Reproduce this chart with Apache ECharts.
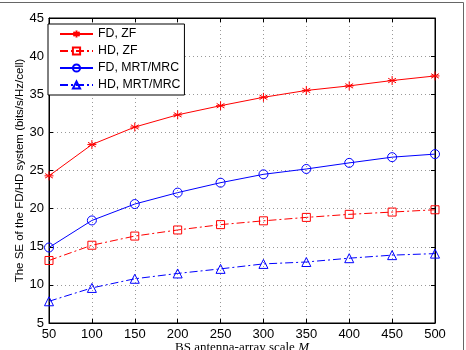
<!DOCTYPE html>
<html>
<head>
<meta charset="utf-8">
<script src="https://cdn.jsdelivr.net/npm/echarts@6/dist/echarts.min.js"></script>
<style>
  html, body { margin: 0; padding: 0; background: #fff; }
  #chart { width: 466px; height: 350px; }
</style>
</head>
<body>
<div id="chart"></div>
<script>
// antenna counts on the x axis
const scales = [50, 100, 150, 200, 250, 300, 350, 400, 450, 500];
// SE values
const fdZf = [24.3, 28.4, 30.7, 32.3, 33.5, 34.6, 35.5, 36.1, 36.8, 37.4];
const hdZf = [13.2, 15.2, 16.4, 17.2, 17.9, 18.4, 18.85, 19.25, 19.55, 19.85];
const fdMrt = [14.9, 18.45, 20.6, 22.1, 23.4, 24.5, 25.2, 26.0, 26.75, 27.15];
const hdMrt = [7.85, 9.6, 10.8, 11.5, 12.1, 12.75, 13.0, 13.5, 13.9, 14.1];
const seriesNames = ["FD, ZF", "HD, ZF", "FD, MRT/MRC", "HD, MRT/MRC"];

const RED = "#ff0000";
const BLUE = "#0000ff";
const dashDot = [8, 3, 2, 3];
const asterisk = "path://M0,-10L0,10M-8.66,-5L8.66,5M-8.66,5L8.66,-5M-10,0L10,0";

const pairs = (ys) => scales.map((x, i) => [x, ys[i]]);

const makeSeries = (name, ys, color, lineType, symbol, size) => ({
    name,
    type: "line",
    data: pairs(ys),
    symbol,
    symbolSize: size,
    showAllSymbol: true,
    animation: false,
    lineStyle: { color, width: 1, type: lineType },
    itemStyle: { color: "rgba(0,0,0,0)", borderColor: color, borderWidth: 1 },
    emphasis: { disabled: true },
});

const tickStyle = { show: true, inside: true, length: 4, lineStyle: { color: "#000" } };
const gridLine = { show: true, lineStyle: { color: "#999", type: [1, 3], width: 1 } };
const sans = "'Liberation Sans', Arial, sans-serif";
const serif = "'Liberation Serif', 'Times New Roman', serif";

const chart = echarts.init(document.getElementById("chart"), null, { renderer: "canvas" });
chart.setOption({
    backgroundColor: "#fff",
    animation: false,
    grid: {
        left: 49, right: 31, top: 18, bottom: 27,
        outerBoundsMode: "none",
        containLabel: false,
        show: true, borderColor: "#000", borderWidth: 1,
    },
    legend: {
        data: seriesNames,
        orient: "vertical",
        left: 48,
        top: 24,
        itemWidth: 33,
        itemHeight: 9,
        itemGap: 3,
        padding: [3, 4, 3, 11],
        backgroundColor: "#fff",
        borderColor: "#000",
        borderWidth: 1,
        textStyle: { fontFamily: sans, fontSize: 12.3, lineHeight: 14, color: "#000" },
    },
    xAxis: [
        {
            type: "value",
            min: 50,
            max: 500,
            interval: 50,
            position: "bottom",
            axisLine: { show: true, lineStyle: { color: "#000" } },
            axisTick: tickStyle,
            splitLine: gridLine,
            axisLabel: { fontFamily: sans, fontSize: 13, color: "#000", margin: 5 },
            name: "{n|BS antenna-array scale }{m|M}",
            nameLocation: "middle",
            nameGap: 18,
            nameMoveOverlap: false,
            nameTextStyle: {
                rich: {
                    n: { fontFamily: serif, fontSize: 13, color: "#000" },
                    m: { fontFamily: serif, fontSize: 13, fontStyle: "italic", color: "#000" },
                },
            },
        },
        {
            type: "value",
            min: 50,
            max: 500,
            interval: 50,
            position: "top",
            axisLine: { show: true, lineStyle: { color: "#000" } },
            axisTick: tickStyle,
            axisLabel: { show: false },
            splitLine: { show: false },
        },
    ],
    yAxis: [
        {
            type: "value",
            min: 5,
            max: 45,
            interval: 5,
            position: "left",
            axisLine: { show: true, lineStyle: { color: "#000" } },
            axisTick: tickStyle,
            splitLine: gridLine,
            axisLabel: { fontFamily: sans, fontSize: 13, color: "#000", margin: 5 },
            name: "The SE of the FD/HD system (bits/s/Hz/cell)",
            nameLocation: "middle",
            nameGap: 23,
            nameMoveOverlap: false,
            nameTextStyle: { fontFamily: sans, fontSize: 11.5, color: "#000" },
        },
        {
            type: "value",
            min: 5,
            max: 45,
            interval: 5,
            position: "right",
            axisLine: { show: true, lineStyle: { color: "#000" } },
            axisTick: tickStyle,
            axisLabel: { show: false },
            splitLine: { show: false },
        },
    ],
    series: [
        makeSeries(seriesNames[0], fdZf, RED, "solid", asterisk, 9),
        makeSeries(seriesNames[1], hdZf, RED, dashDot, "rect", 8),
        makeSeries(seriesNames[2], fdMrt, BLUE, "solid", "circle", 9),
        makeSeries(seriesNames[3], hdMrt, BLUE, dashDot, "triangle", 9),
    ],
    graphic: [
        {
            type: "polyline",
            shape: { points: [[0, 2.5], [463.5, 2.5], [463.5, 350]] },
            style: { fill: null, stroke: "#666", lineWidth: 1 },
            silent: true,
        },
    ],
});
</script>
</body>
</html>
